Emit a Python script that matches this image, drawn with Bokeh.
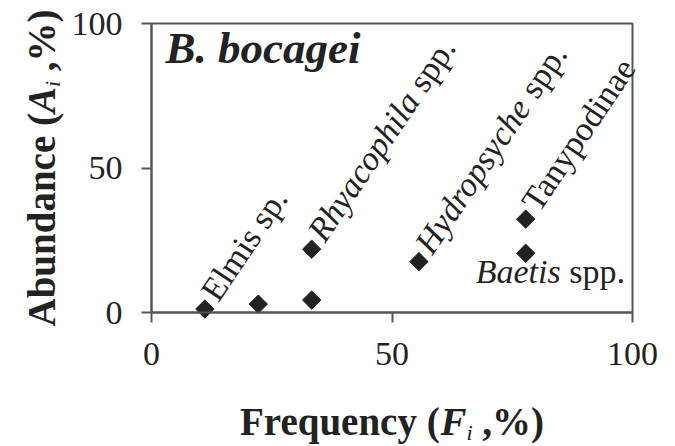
import math
from bokeh.plotting import figure
from bokeh.models import ColumnDataSource, LabelSet, Label, Range1d, FixedTicker
from bokeh.embed import file_html
from bokeh.resources import INLINE

# ---------------- data ----------------
freq = [11.1, 22.2, 33.3, 33.3, 55.6, 77.8, 77.8]          # Frequency F_i (%)
abund = [1.2, 2.9, 4.3, 21.9, 17.6, 32.3, 20.5]            # Abundance A_i (%)
name_italic = ["", "", "", "Rhyacophila", "Hydropsyche", "", "Baetis"]
name_regular = ["Elmis sp.", "", "", "spp.", "spp.", "Tanypodinae", "spp."]
x_ticks = [0, 50, 100]
y_ticks = [0, 50, 100]
panel_title = "B. bocagei"

# ---------------- layout / style ----------------
W_PX, H_PX = 675, 446
FRAME_L, FRAME_R, FRAME_T, FRAME_B = 151, 632, 23, 312   # where 0..100 sits on the page
FONT = "Liberation Serif"
INK = "#222222"
LINE = "#555555"
LABEL_SIZE = 34
ROT = math.radians(56)
LABEL_SHIFT = 0.34   # Label draws its alphabetic baseline this many em lower

xs = (FRAME_R - FRAME_L) / (x_ticks[-1] - x_ticks[0])
ys = (FRAME_B - FRAME_T) / (y_ticks[-1] - y_ticks[0])

# Times / Liberation Serif advance widths (em)
WID = {
    "normal": {" ": .25, "s": .389, "p": .5, ".": .25, "E": .611, "l": .278, "m": .778,
               "i": .278, "T": .611, "a": .444, "n": .5, "y": .5, "o": .5, "d": .5, "e": .444},
    "italic": {"R": .611, "h": .5, "y": .444, "a": .5, "c": .444, "o": .5, "p": .5, "i": .278,
               "l": .278, "H": .722, "d": .5, "r": .389, "s": .389, "e": .444, "B": .611, "t": .278},
    "bold": {"F": .611, "r": .444, "e": .444, "q": .556, "u": .556, "n": .556, "c": .444,
             "y": .5, " ": .25, "(": .333, ")": .333, ",": .25, "%": 1.0, "A": .722,
             "b": .556, "d": .556, "a": .5},
    "bold italic": {"F": .667, "A": .667, "i": .278},
}


def text_width(s, style, size):
    table = WID[style]
    return sum(table.get(c, .5) for c in s) * size


p = figure(width=W_PX, height=H_PX,
           x_range=Range1d(x_ticks[0] - FRAME_L / xs, x_ticks[-1] + (W_PX - FRAME_R) / xs),
           y_range=Range1d(y_ticks[0] - (H_PX - FRAME_B) / ys, y_ticks[-1] + FRAME_T / ys),
           output_backend="svg", toolbar_location=None,
           min_border_left=0, min_border_right=0, min_border_top=0, min_border_bottom=0)
p.grid.visible = False
p.background_fill_color = "white"
p.border_fill_color = "white"
p.outline_line_color = None

# plot box
p.quad(left=[x_ticks[0]], right=[x_ticks[-1]], bottom=[y_ticks[0]], top=[y_ticks[-1]],
       fill_color=None, line_color=LINE, line_width=2)

for ax, standoff, ticks in ((p.xaxis, 20, x_ticks), (p.yaxis, 19, y_ticks)):
    ax.fixed_location = 0
    ax.bounds = (ticks[0], ticks[-1])
    ax.ticker = FixedTicker(ticks=ticks)
    ax.axis_line_color = LINE
    ax.axis_line_width = 2
    ax.major_tick_line_color = LINE
    ax.major_tick_line_width = 2
    ax.major_tick_out = 10
    ax.major_tick_in = 0
    ax.minor_tick_out = 0
    ax.minor_tick_in = 0
    ax.major_label_text_font = FONT
    ax.major_label_text_font_size = "34px"
    ax.major_label_text_color = INK
    ax.major_label_standoff = standoff
    ax.axis_label = None

src = ColumnDataSource(dict(x=freq, y=abund))
p.scatter("x", "y", source=src, marker="square", angle=math.pi / 4, size=13,
          fill_color=INK, line_color=INK)

# ---------------- point labels ----------------
it = dict(x=[], y=[], text=[], xo=[], yo=[], ang=[])
rg = dict(x=[], y=[], text=[], xo=[], yo=[], ang=[])
space = text_width(" ", "normal", LABEL_SIZE)
for i, (fx, ay) in enumerate(zip(freq, abund)):
    ti, tr = name_italic[i], name_regular[i]
    if not ti and not tr:
        continue
    wi = text_width(ti, "italic", LABEL_SIZE) + (space if ti else 0.0)
    if ti == "Baetis":
        # horizontal label underneath its point
        x0, y0 = -50.0, -30.0
        for d, txt, dst in ((0.0, ti, it), (wi, tr, rg)):
            dst["x"].append(fx); dst["y"].append(ay); dst["text"].append(txt)
            dst["xo"].append(x0 + d); dst["yo"].append(y0); dst["ang"].append(0.0)
    else:
        d0, perp = 12.0, -8.0
        for d, txt, dst in ((d0, ti, it), (d0 + wi, tr, rg)):
            if txt:
                dst["x"].append(fx); dst["y"].append(ay); dst["text"].append(txt)
                dst["xo"].append(d * math.cos(ROT) - perp * math.sin(ROT))
                dst["yo"].append(d * math.sin(ROT) + perp * math.cos(ROT))
                dst["ang"].append(ROT)

for data, style in ((it, "italic"), (rg, "normal")):
    ls = LabelSet(x="x", y="y", text="text", x_offset="xo", y_offset="yo", angle="ang",
                  source=ColumnDataSource(data), text_font=FONT, text_font_style=style,
                  text_font_size=f"{LABEL_SIZE}px", text_color=INK,
                  text_align="left", text_baseline="alphabetic")
    p.add_layout(ls)

# ---------------- panel title ----------------
PT = 45
p.add_layout(Label(x=x_ticks[0], y=y_ticks[-1], x_offset=14, y_offset=-40 + LABEL_SHIFT * PT,
                   text=panel_title, text_font=FONT, text_font_style="bold italic",
                   text_font_size=f"{PT}px", text_color=INK, text_align="left",
                   text_baseline="alphabetic"))

# ---------------- axis titles (mixed styles) ----------------
TS = 39
SUB = 22


def title_pieces(word, var):
    return [(word + " (", "bold", TS, 0), (var, "bold italic", TS, 0),
            ("i", "italic", SUB, 5), ("\u00a0,%)", "bold", TS, 0)]


def place_title(pieces, horizontal):
    widths = [text_width(t.replace("\u00a0", " "), s, sz) for t, s, sz, _ in pieces]
    total = sum(widths)
    cum = -total / 2
    xc = (x_ticks[0] + x_ticks[-1]) / 2
    yc = (y_ticks[0] + y_ticks[-1]) / 2
    for (t, s, sz, drop), w in zip(pieces, widths):
        corr = LABEL_SHIFT * sz
        if horizontal:
            lab = Label(x=xc, y=y_ticks[0], x_offset=cum, y_offset=-122 - drop + corr, text=t)
        else:
            lab = Label(x=x_ticks[0], y=yc, x_offset=-97 + drop - corr, y_offset=cum, text=t,
                        angle=math.pi / 2)
        lab.text_font = FONT
        lab.text_font_style = s
        lab.text_font_size = f"{sz}px"
        lab.text_color = INK
        lab.text_align = "left"
        lab.text_baseline = "alphabetic"
        p.add_layout(lab)
        cum += w


place_title(title_pieces("Frequency", "F"), True)
place_title(title_pieces("Abundance", "A"), False)

open("out.html", "w").write(file_html(p, INLINE))
